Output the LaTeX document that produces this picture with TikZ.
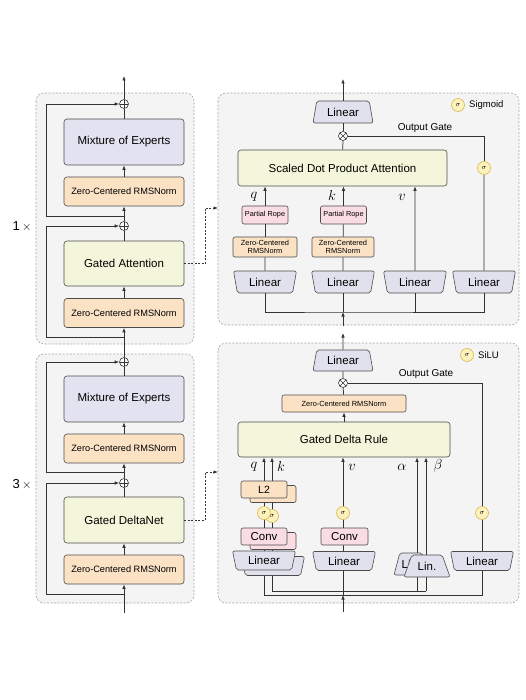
\documentclass[tikz,border=0pt]{standalone}
\usepackage{fontspec}
\setmainfont{Liberation Sans}
\usetikzlibrary{arrows.meta,shapes.geometric}

\definecolor{framecol}{HTML}{F4F4F4}
\definecolor{framedraw}{HTML}{A6A6A6}
\definecolor{moecol}{HTML}{E2E2F0}
\definecolor{normcol}{HTML}{FBE2C5}
\definecolor{attncol}{HTML}{F4F6DB}
\definecolor{ropecol}{HTML}{FADDE2}
\definecolor{lincol}{HTML}{E1E1EE}
\definecolor{sigfill}{HTML}{FDF1BC}
\definecolor{sigdraw}{HTML}{D9B850}
\definecolor{linecol}{HTML}{333333}

\tikzset{
  >={Latex[length=4.5pt,width=3.6pt]},
  frame/.style={fill=framecol, draw=framedraw, line width=0.6pt, dash pattern=on 2pt off 1.6pt, rounded corners=8pt},
  wire/.style={draw=linecol, line width=0.75pt},
  dashwire/.style={wire, dash pattern=on 2pt off 1.5pt},
  block/.style={draw=black!70, line width=0.6pt, rounded corners=3pt, inner sep=0pt, align=center, font=\fontsize{11.5}{13}\selectfont},
  moebox/.style={block, fill=moecol, minimum width=120pt, minimum height=46pt},
  normbox/.style={block, fill=normcol, minimum width=120pt, minimum height=29pt, font=\fontsize{9.2}{11}\selectfont},
  attnbox/.style={block, fill=attncol},
  ropebox/.style={block, fill=ropecol, rounded corners=2pt, minimum width=46pt, minimum height=18pt, font=\fontsize{7.3}{9}\selectfont},
  smallnorm/.style={block, fill=normcol, rounded corners=2pt, font=\fontsize{7.4}{8.6}\selectfont},
  convbox/.style={block, fill=ropecol, rounded corners=2pt, minimum width=46pt, minimum height=17pt},
  l2box/.style={block, fill=normcol, rounded corners=2pt, minimum width=46pt, minimum height=17pt, font=\fontsize{10.5}{12}\selectfont},
  linin/.style={trapezium, trapezium stretches=true, shape border rotate=180, trapezium angle=75, draw=black!70, fill=lincol, line width=0.6pt, rounded corners=2pt, inner sep=0pt, minimum width=63pt, minimum height=21pt, font=\fontsize{11.5}{13}\selectfont},
  linout/.style={linin, shape border rotate=0, minimum width=60pt},
  linsmall/.style={linin, shape border rotate=0, trapezium angle=60, minimum height=22pt},
  addop/.style={circle, draw=linecol, fill=white, line width=0.6pt, inner sep=0pt, minimum size=9pt,
    path picture={\draw[line width=0.6pt] (path picture bounding box.north) -- (path picture bounding box.south)
      (path picture bounding box.west) -- (path picture bounding box.east);}},
  mulop/.style={circle, draw=linecol, fill=white, line width=0.6pt, inner sep=0pt, minimum size=9pt,
    path picture={\draw[line width=0.6pt] (path picture bounding box.north west) -- (path picture bounding box.south east)
      (path picture bounding box.south west) -- (path picture bounding box.north east);}},
  sig/.style={circle, draw=sigdraw, fill=sigfill, line width=0.6pt, inner sep=0pt, minimum size=13pt, font=\fontsize{7.5}{7.5}\selectfont},
  mathlbl/.style={inner sep=0pt, font=\fontsize{14.5}{15}\selectfont},
  txt/.style={inner sep=0pt, font=\fontsize{10}{12}\selectfont},
}

\begin{document}
\begin{tikzpicture}[x=1pt, y=-1pt]
  \useasboundingbox (0,0) rectangle (525,700);

  \draw[frame] (36,93) rectangle (194,344);
  \draw[frame] (36,354) rectangle (194,603);
  \draw[frame] (218,93) rectangle (519,325);
  \draw[frame] (218,343) rectangle (519,603);

  % left column, attention block
  \node[addop] (add1) at (124,104) {};
  \node[moebox] (moe1) at (124,142) {Mixture of Experts};
  \node[normbox] (norm1) at (124,191.5) {Zero-Centered RMSNorm};
  \node[addop] (add2) at (124,226) {};
  \node[attnbox, minimum width=120pt, minimum height=45pt] (attn) at (124,263.5) {Gated Attention};
  \node[normbox] (norm2) at (124,313) {Zero-Centered RMSNorm};
  \node[txt, font=\fontsize{13}{14}\selectfont] (rep1) at (22,227) {1\,$\times$};

  \coordinate (top0) at (124,76);
  \coordinate (res1) at (124,216);
  \coordinate (res2) at (124,337);
  \draw[wire,->] (add1) -- (top0);
  \draw[wire] (moe1) -- (add1);
  \draw[wire,->] (norm1) -- (moe1);
  \draw[wire,->] (add2) -- (norm1);
  \draw[wire] (attn) -- (add2);
  \draw[wire,->] (norm2) -- (attn);
  \draw[wire,->] (res1) -- ++(-78,0) |- (add1);
  \draw[wire,->] (res2) -- ++(-78,0) |- (add2);

  % left column, deltanet block
  \node[addop] (add3) at (124,362) {};
  \node[moebox] (moe2) at (124,399) {Mixture of Experts};
  \node[normbox] (norm3) at (124,448.5) {Zero-Centered RMSNorm};
  \node[addop] (add4) at (124,483) {};
  \node[attnbox, minimum width=120pt, minimum height=46pt] (gdn) at (124,520) {Gated DeltaNet};
  \node[normbox] (norm4) at (124,569.5) {Zero-Centered RMSNorm};
  \node[txt, font=\fontsize{13}{14}\selectfont] (rep3) at (22,484) {3\,$\times$};

  \coordinate (inL) at (124,613);
  \coordinate (res3) at (124,472);
  \coordinate (res4) at (124,594);
  \draw[wire,->] (add3) -- (norm2);
  \draw[wire] (moe2) -- (add3);
  \draw[wire,->] (norm3) -- (moe2);
  \draw[wire,->] (add4) -- (norm3);
  \draw[wire] (gdn) -- (add4);
  \draw[wire,->] (norm4) -- (gdn);
  \draw[wire,->] (inL) -- (norm4);
  \draw[wire,->] (res3) -- ++(-78,0) |- (add3);
  \draw[wire,->] (res4) -- ++(-78,0) |- (add4);

  \coordinate (gaIn) at (218,208);
  \coordinate (gdIn) at (218,472);
  \draw[dashwire,->] (attn.east) -- ++(21,0) |- (gaIn);
  \draw[dashwire,->] (gdn.east) -- ++(21,0) |- (gdIn);

  % gated attention detail
  \node[sig] (leg1) at (458,105) {$\sigma$};
  \node[txt, anchor=west, font=\fontsize{9.5}{11}\selectfont] (legt1) at (469,105) {Sigmoid};
  \node[linout, minimum height=22pt] (out1) at (343,112) {Linear};
  \node[mulop] (mul1) at (343,136) {};
  \node[txt] (og1) at (425,128) {Output Gate};
  \node[attnbox, minimum width=209pt, minimum height=36pt] (sdpa) at (342.5,168) {Scaled Dot Product Attention};
  \node[ropebox] (rope1) at (265,215) {Partial Rope};
  \node[ropebox] (rope2) at (343.5,215) {Partial Rope};
  \node[smallnorm, minimum width=64pt, minimum height=20pt] (qn1) at (265,247) {Zero-Centered\\RMSNorm};
  \node[smallnorm, minimum width=62pt, minimum height=20pt] (kn1) at (343,247) {Zero-Centered\\RMSNorm};
  \node[linin, minimum height=22pt] (lq1) at (265,282) {Linear};
  \node[linin, minimum height=22pt] (lk1) at (343,282) {Linear};
  \node[linin, minimum height=22pt] (lv1) at (415,282) {Linear};
  \node[linin, minimum height=22pt] (lg1) at (484,282) {Linear};
  \node[sig] (sg1) at (484,168) {$\sigma$};
  \node[mathlbl] (q1) at (254,197) {$q$};
  \node[mathlbl] (k1) at (332,196) {$k$};
  \node[mathlbl] (v1) at (402,197) {$v$};

  \coordinate (o1) at (343,79);
  \coordinate (in1) at (343,312);
  \coordinate (in1s) at (343,326);
  \draw[wire,->] (out1) -- (o1);
  \draw[wire] (mul1) -- (out1);
  \draw[wire] (sdpa) -- (mul1);
  \draw[wire,->] (rope1) -- (rope1 |- sdpa.south);
  \draw[wire,->] (rope2) -- (rope2 |- sdpa.south);
  \draw[wire] (qn1) -- (rope1);
  \draw[wire] (kn1) -- (rope2);
  \draw[wire] (lq1) -- (qn1);
  \draw[wire] (lk1) -- (kn1);
  \draw[wire,->] (lv1) -- (lv1 |- sdpa.south);
  \draw[wire] (lg1) -- (sg1);
  \draw[wire] (sg1) |- (mul1);
  \draw[wire] (lq1) |- (in1) -| (lg1);
  \draw[wire] (lk1) -- (in1);
  \draw[wire] (lv1) -- (lv1 |- in1);
  \draw[wire,->] (in1s) -- (in1);

  % gated deltanet detail
  \node[sig] (leg2) at (467,355) {$\sigma$};
  \node[txt, anchor=west, font=\fontsize{9.5}{11}\selectfont] (legt2) at (478,355) {SiLU};
  \node[linout] (out2) at (343,360.5) {Linear};
  \node[mulop] (mul2) at (343,383) {};
  \node[txt] (og2) at (426,374) {Output Gate};
  \node[smallnorm, minimum width=124pt, minimum height=17pt] (gn) at (344,403.5) {Zero-Centered RMSNorm};
  \node[attnbox, minimum width=212pt, minimum height=35pt] (gdr) at (344,439.5) {Gated Delta Rule};

  \coordinate (o2) at (343,333);
  \coordinate (qb) at (264,595);
  \coordinate (kb) at (272,591);
  \coordinate (vb) at (343,595);
  \coordinate (ab) at (417,591);
  \coordinate (bb) at (426,591);
  \coordinate (gb) at (482,595);
  \coordinate (in2s) at (343,612);
  \draw[wire,->] (out2) -- (o2);
  \draw[wire] (mul2) -- (out2);
  \draw[wire] (gn) -- (mul2);
  \draw[wire,->] (gdr) -- (gn);
  \foreach \c in {qb,kb,vb,ab,bb}
    \draw[wire,->] (\c) -- (\c |- gdr.south);
  \draw[wire] (qb) -- (gb) |- (mul2);
  \draw[wire] (kb) -- (bb);
  \draw[wire,->] (in2s) -- (vb);

  \node[l2box] (l2k) at (273,494) {\phantom{L2}};
  \node[l2box] (l2q) at (264,489.5) {L2};
  \node[sig] (sk) at (272,516) {$\sigma$};
  \node[sig] (sq) at (264,513) {$\sigma$};
  \node[convbox] (cvk) at (273,541) {\phantom{Conv}};
  \node[convbox] (cvq) at (264,536.5) {Conv};
  \node[linin, minimum height=19pt] (lk2) at (273,566) {\phantom{Linear}};
  \node[linin, minimum height=19pt] (lq2) at (264,560.5) {Linear};
  \node[sig] (sv) at (343,513) {$\sigma$};
  \node[convbox, minimum width=47pt] (cvv) at (344.5,536.5) {Conv};
  \node[linin, minimum height=19pt] (lv2) at (344,561) {Linear};
  \node[linsmall, minimum width=34pt] (la) at (411,564) {Lin.};
  \node[linsmall, minimum width=46pt] (lb) at (427,566) {Lin.};
  \node[sig] (sg2) at (482,513) {$\sigma$};
  \node[linin, minimum height=19pt] (lg2) at (482,561) {Linear};
  \node[mathlbl] (q2) at (254,467) {$q$};
  \node[mathlbl] (k2) at (281,466) {$k$};
  \node[mathlbl] (v2) at (352,467) {$v$};
  \node[mathlbl] (a2) at (402,467) {$\alpha$};
  \node[mathlbl] (b2) at (438,466) {$\beta$};
\end{tikzpicture}
\end{document}
